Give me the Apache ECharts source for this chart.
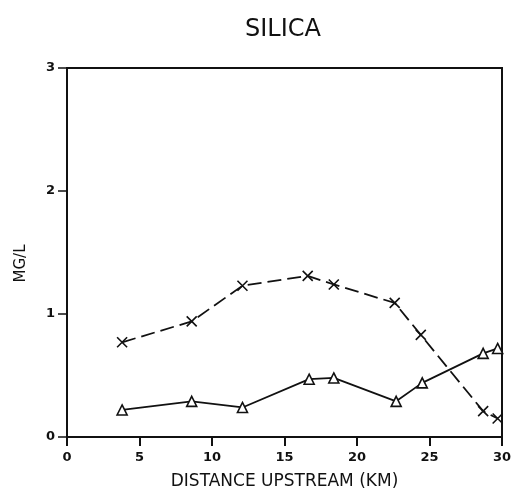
<!DOCTYPE html>
<html>
<head>
<meta charset="utf-8">
<script src="https://cdn.jsdelivr.net/npm/echarts@6/dist/echarts.min.js"></script>
<style>
  html, body { margin: 0; padding: 0; background: #fff; }
  #chart { width: 515px; height: 495px; }
</style>
</head>
<body>
<div id="chart"></div>
<script>
// distance upstream (km) and silica (mg/L)
const crossX = [3.8, 8.6, 12.1, 16.6, 18.4, 22.6, 24.4, 28.7, 29.7];
const crossY = [0.77, 0.94, 1.23, 1.31, 1.24, 1.09, 0.83, 0.21, 0.15];
const triX = [3.8, 8.6, 12.1, 16.7, 18.4, 22.7, 24.5, 28.7, 29.7];
const triY = [0.22, 0.29, 0.24, 0.47, 0.48, 0.29, 0.44, 0.68, 0.72];
const xTicks = [0, 5, 10, 15, 20, 25, 30];
const yTicks = [0, 1, 2, 3];

const font = "DejaVu Sans";
const pair = (xs, ys) => xs.map((x, i) => [x, ys[i]]);

const chart = echarts.init(document.getElementById("chart"));
chart.setOption({
    backgroundColor: "#fff",
    animation: false,
    title: {
        text: "SILICA",
        left: 278,
        top: 13,
        textAlign: "center",
        textStyle: { fontFamily: font, fontSize: 24, fontWeight: "normal", color: "#111" }
    },
    grid: {
        left: 67, right: 13, top: 68, bottom: 58,
        show: true, borderColor: "#111", borderWidth: 2, backgroundColor: "transparent"
    },
    xAxis: {
        type: "value",
        min: 0, max: 30, interval: 5,
        name: "DISTANCE UPSTREAM (KM)",
        nameLocation: "middle",
        nameGap: 36,
        nameTextStyle: { fontFamily: font, fontSize: 17, color: "#111" },
        axisLine: { lineStyle: { color: "#111", width: 2 } },
        axisTick: { inside: false, length: 9, lineStyle: { color: "#111", width: 2 } },
        axisLabel: {
            margin: 14, fontFamily: font, fontSize: 13, fontWeight: "bold", color: "#111",
            formatter: v => xTicks.includes(v) ? String(v) : ""
        },
        splitLine: { show: false }
    },
    yAxis: {
        type: "value",
        min: 0, max: 3, interval: 1,
        name: "MG/L",
        nameLocation: "middle",
        nameGap: 38,
        nameRotate: 90,
        nameTextStyle: { fontFamily: font, fontSize: 15, color: "#111", padding: [0, 0, 0, -22] },
        axisLine: { lineStyle: { color: "#111", width: 2 } },
        axisTick: { inside: false, length: 9, lineStyle: { color: "#111", width: 1.5 } },
        axisLabel: {
            margin: 12, fontFamily: font, fontSize: 13, fontWeight: "bold", color: "#111",
            formatter: v => yTicks.includes(v) ? String(v) : ""
        },
        splitLine: { show: false }
    },
    series: [
        {
            name: "x",
            type: "line",
            data: pair(crossX, crossY),
            symbol: "path://M0,0L10,10M10,0L0,10",
            symbolSize: 10,
            itemStyle: { color: "transparent", borderColor: "#111", borderWidth: 1.6 },
            lineStyle: { color: "#111", width: 1.8, type: [14, 6] },
            z: 3
        },
        {
            name: "triangle",
            type: "line",
            data: pair(triX, triY),
            symbol: "triangle",
            symbolSize: 10,
            itemStyle: { color: "#fff", borderColor: "#111", borderWidth: 1.6 },
            lineStyle: { color: "#111", width: 1.8 },
            z: 3
        }
    ]
});
</script>
</body>
</html>
